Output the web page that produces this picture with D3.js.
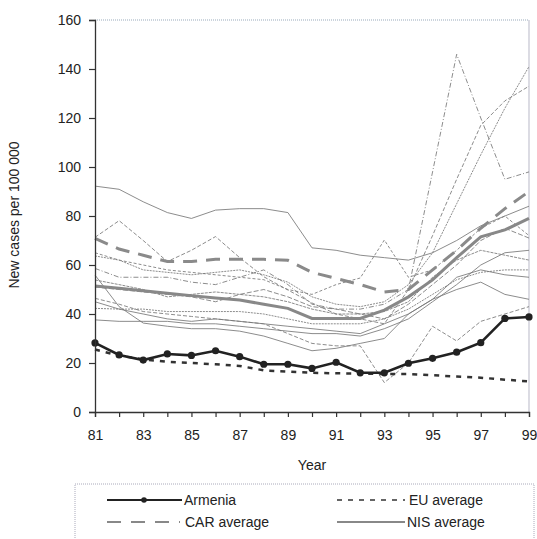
<!DOCTYPE html>
<html><head><meta charset="utf-8">
<script src="https://cdn.jsdelivr.net/npm/d3@7"></script>
<style>body{margin:0;background:#fff}svg{display:block}text{font-family:"Liberation Sans",Arial,sans-serif;fill:#222}</style>
</head><body><svg id="c" width="537" height="539"></svg>
<script>
const years = d3.range(81, 100);
const xTickLabels = [81,83,85,87,89,91,93,95,97,99];
const yTicks = [0,20,40,60,80,100,120,140,160];

const armenia = [28.2,23.3,21.2,23.7,23.1,25,22.6,19.5,19.5,17.8,20.3,16,16,19.9,21.9,24.4,28.3,38.2,38.8];
const euAvg   = [25.5,23,21.5,20.5,20,19.5,18.8,17,16.5,16,15.8,15.7,15.5,15.5,15,14.5,14,13.2,12.5];
const carAvg  = [70.9,66.5,64,61.4,61.4,62.3,62.3,62.3,61.9,57,54.5,52,49,50,58,66,75,83,90];
const nisAvg  = [51.4,50.5,49.5,48.5,47.5,46.5,45.7,44,42.3,38.2,38.2,38.2,41.6,47,53.9,63,71.5,74.3,79];

const country1  = [92.2,90.9,85.8,81.4,79,82.4,83,83,81.4,67,66,64,63,62,65,70,76,80,84];
const country2  = [71.3,78.1,70,61.4,66,71.6,63,55.2,49.8,44.5,40,38,36,50,72,95,117,127,133];
const country3  = [65,62,60,58,57,56,55,54,50,48,52,54.7,70.2,55,58,66,75,80,72];
const country4  = [58.6,55,55,55,53,52,55,58,52,44,42,42,44,50,98,146,120,95,98];
const country5  = [63.7,62,58,57,56,57,58,56,53,47,44,43,45,52,65,85,105,124,141];
const country6  = [46.4,44,41,40,39,38,37,36,32,28,27,27,12,20,35,29,37,40,43];
const country7  = [55.9,43,36.3,35,34,34,33,31,28,25,26,28,30,40,46,50,53,48,46];
const country8  = [53.9,52,50,47,48,49,48,47,45,42,40,40,41,45,55,62,66,64,62];
const country9  = [51,50,49,48,47,45,48,50,47,43,42,40,38,44,52,60,70,75,71];
const country10 = [45,42,40,38,37,38,37,36,35,34,33,32,36,40,46,55,58,56,55];
const country11 = [42.3,42,42,41,41,41,41,40,38,36,36,36,38,42,48,54,57,58,58];
const country12 = [37.6,37,37,37,36,36,35,34,33,32,32,31,34,38,45,52,60,65,66];

const countries = [
  {v:country1, dash:null}, {v:country2, dash:"4,2"}, {v:country3, dash:"3,2"},
  {v:country4, dash:"5,2,1,2"}, {v:country5, dash:"2,1"}, {v:country6, dash:"4,2"},
  {v:country7, dash:null}, {v:country8, dash:"3,1"}, {v:country9, dash:"5,2"},
  {v:country10, dash:null}, {v:country11, dash:"2,1"}, {v:country12, dash:null}
];

const svg = d3.select("#c");
const L = 95, R = 529, T = 20, B = 412;
const x = d3.scaleLinear().domain([81,99]).range([L,R]);
const y = d3.scaleLinear().domain([0,160]).range([B,T]);

svg.append("line").attr("x1",L).attr("x2",R).attr("y1",T).attr("y2",T)
  .attr("stroke","#9ab").attr("stroke-width",1).attr("stroke-dasharray","1,1");
svg.append("line").attr("x1",R).attr("x2",R).attr("y1",T).attr("y2",B)
  .attr("stroke","#c4c4d0").attr("stroke-width",1.2);

const line = d3.line().x((d,i)=>x(years[i])).y(d=>y(d));

const g = svg.append("g");
countries.forEach(c=>{
  g.append("path").datum(c.v).attr("d",line).attr("fill","none")
    .attr("stroke","#777").attr("stroke-width",0.85)
    .attr("stroke-dasharray",c.dash);
});

g.append("path").datum(carAvg).attr("d",line).attr("fill","none")
  .attr("stroke","#8a8a8a").attr("stroke-width",3).attr("stroke-dasharray","14,9");
g.append("path").datum(nisAvg).attr("d",line).attr("fill","none")
  .attr("stroke","#888").attr("stroke-width",3);
g.append("path").datum(euAvg).attr("d",line).attr("fill","none")
  .attr("stroke","#333").attr("stroke-width",2.5).attr("stroke-dasharray","5,6");
g.append("path").datum(armenia).attr("d",line).attr("fill","none")
  .attr("stroke","#222").attr("stroke-width",2.6);
g.selectAll("circle.arm").data(armenia).enter().append("circle")
  .attr("cx",(d,i)=>x(years[i])).attr("cy",d=>y(d)).attr("r",3.6).attr("fill","#222");

const yAxis = d3.axisLeft(y).tickValues(yTicks).tickSize(6).tickPadding(8);
const ya = svg.append("g").attr("transform",`translate(${L},0)`).call(yAxis);
const xAxis = d3.axisBottom(x).tickValues(years).tickSize(5).tickPadding(13)
  .tickFormat(d=> xTickLabels.includes(d) ? d : "");
const xa = svg.append("g").attr("transform",`translate(0,${B})`).call(xAxis);
[ya,xa].forEach(a=>{
  a.selectAll("path").attr("stroke","#333").attr("stroke-width",1.3);
  a.selectAll("line").attr("stroke","#333").attr("stroke-width",1.2);
  a.selectAll("text").attr("font-size",14).attr("fill","#222")
    .attr("font-family","'Liberation Sans',Arial,sans-serif");
});

svg.append("text").attr("x",312).attr("y",470).attr("text-anchor","middle")
  .attr("font-size",14).text("Year");
svg.append("text").attr("transform","translate(19,215) rotate(-90)")
  .attr("text-anchor","middle").attr("font-size",14).text("New cases per 100 000");

svg.append("rect").attr("x",75).attr("y",484).attr("width",459).attr("height",70)
  .attr("fill","none").attr("stroke","#aab").attr("stroke-width",1).attr("stroke-dasharray","1,1");
const lg = svg.append("g");
lg.append("line").attr("x1",107).attr("x2",182).attr("y1",500).attr("y2",500)
  .attr("stroke","#222").attr("stroke-width",2.2);
lg.append("circle").attr("cx",144).attr("cy",500).attr("r",2.8).attr("fill","#222");
lg.append("text").attr("x",184).attr("y",505).attr("font-size",14).text("Armenia");
lg.append("line").attr("x1",337).attr("x2",405).attr("y1",500).attr("y2",500)
  .attr("stroke","#333").attr("stroke-width",1.6).attr("stroke-dasharray","5,6");
lg.append("text").attr("x",409).attr("y",505).attr("font-size",14).text("EU average");
lg.append("line").attr("x1",107).attr("x2",180).attr("y1",522).attr("y2",522)
  .attr("stroke","#888").attr("stroke-width",2.2).attr("stroke-dasharray","14,10");
lg.append("text").attr("x",185).attr("y",527).attr("font-size",14).text("CAR average");
lg.append("line").attr("x1",337).attr("x2",405).attr("y1",522).attr("y2",522)
  .attr("stroke","#888").attr("stroke-width",2);
lg.append("text").attr("x",407).attr("y",527).attr("font-size",14).text("NIS average");
</script></body></html>
